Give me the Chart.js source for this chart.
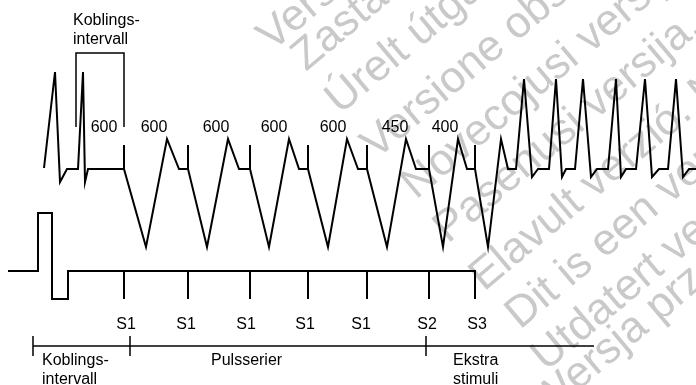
<!DOCTYPE html>
<html>
<head>
<meta charset="utf-8">
<script src="https://cdn.jsdelivr.net/npm/chart.js@4.4.1/dist/chart.umd.min.js"></script>
<style>
  body { margin: 0; background: #fff; }
  #wrap { width: 696px; height: 385px; }
</style>
</head>
<body>
<div id="wrap"><canvas id="grafico"></canvas></div>
<script>
// EGM-kurven (øverst): x = tid (tegneenheter), y = nivå (nedover = større)
const egmX = [44, 55, 60, 67, 78, 83, 85, 88, 124, 124, 124, 146, 167, 179, 188, 188, 188, 207, 228, 239,
  250, 250, 250, 269, 289, 299, 308, 308, 308, 328, 347, 358, 367, 367, 367, 387, 406, 416,
  429, 429, 429, 443, 458, 467, 475, 475, 475, 488, 501, 508, 516,
  524, 532, 538, 549, 556, 562, 566, 575, 583, 591, 597, 608, 616, 621, 626, 636,
  645, 652, 659, 668, 676, 683, 689, 696];
const egmY = [168, 72, 182, 169, 169, 72, 182, 169, 169, 145, 169, 247, 139, 169, 169, 145, 169, 247, 139, 169,
  169, 145, 169, 247, 139, 169, 169, 145, 169, 247, 139, 169, 169, 145, 169, 247, 139, 169,
  169, 145, 169, 247, 139, 169, 169, 145, 169, 247, 139, 169, 169,
  79, 177, 169, 169, 79, 177, 169, 169, 79, 177, 169, 169, 79, 177, 169, 169,
  79, 177, 169, 169, 79, 177, 169, 169];

// stimuleringskurven
const stimX = [8, 38, 38, 52, 52, 68, 68, 475, 475];
const stimY = [271, 271, 213, 213, 299, 299, 271, 271, 299];
const stimPulsX = [124, 188, 250, 308, 367, 429];
const stimTopp = 271;
const stimBunn = 299;
const stimNavn = ['S1', 'S1', 'S1', 'S1', 'S1', 'S2', 'S3'];
const stimNavnX = [126, 186, 246, 305, 361, 427, 477];

// intervaller (ms)
const intervaller = ['600', '600', '600', '600', '600', '450', '400'];
const intervallX = [104, 154, 216, 274, 333, 395, 445];

// klamme for koblingsintervall
const klammeX = [76, 76, 124, 124];
const klammeY = [127, 53, 53, 127];

// tidslinje nederst
const linjeX = [33, 594];
const linjeY = 346;
const linjeMerker = [33, 130, 426];
const faser = [['Koblings-', 'intervall'], ['Pulsserier'], ['Ekstra', 'stimuli']];
const faseX = [42, 211, 453];

// vannmerke-tekst
const vannmerker = [
  'Version obsolète. Ne pas utiliser.',
  'Zastaralá verze. Nepoužívat.',
  'Úrelt útgáfa. Notið ekki.',
  'Versione obsoleta. Non utilizzare.',
  'Novecojusi versija. Neizmantot.',
  'Pasenusi versija. Nenaudokite.',
  'Elavult verzió. Ne használja!',
  'Dit is een verouderde versie. Niet gebruiken.',
  'Utdatert versjon. Skal ikke brukes.',
  'Wersja przeterminowana. Nie używać.'
];
const vannmerkeStart = [[272, 52], [306, 72], [340, 115], [376, 160], [416, 200], [448, 244], [484, 292], [520, 330], [546, 372], [546, 418]];

const pts = (xs, ys) => xs.map((x, i) => ({ x: x, y: Array.isArray(ys) ? ys[i] : ys }));

// små streker (med brudd mellom dem)
function streker(xs, y1, y2) {
  const d = [];
  xs.forEach(x => {
    d.push({ x: x, y: y1 }, { x: x, y: y2 }, { x: x, y: null });
  });
  return d;
}

const tekstPlugin = {
  id: 'tekster',
  beforeDatasetsDraw(chart) {
    const c = chart.ctx;
    c.save();
    c.fillStyle = '#c9c9c9';
    c.font = '44px "Liberation Sans", Arial, sans-serif';
    c.textBaseline = 'alphabetic';
    vannmerker.forEach((t, i) => {
      c.save();
      c.translate(vannmerkeStart[i][0], vannmerkeStart[i][1]);
      c.rotate(-40 * Math.PI / 180);
      c.fillText(t, 0, 0);
      c.restore();
    });
    c.restore();
  },
  afterDatasetsDraw(chart) {
    const c = chart.ctx;
    const sx = chart.scales.x, sy = chart.scales.y;
    c.save();
    c.fillStyle = '#000';
    c.font = '16px "Liberation Sans", Arial, sans-serif';
    c.textBaseline = 'alphabetic';

    c.textAlign = 'center';
    intervaller.forEach((t, i) => c.fillText(t, sx.getPixelForValue(intervallX[i]), sy.getPixelForValue(132)));
    stimNavn.forEach((t, i) => c.fillText(t, sx.getPixelForValue(stimNavnX[i]), sy.getPixelForValue(329)));

    c.textAlign = 'left';
    c.fillText('Koblings-', sx.getPixelForValue(73), sy.getPixelForValue(25));
    c.fillText('intervall', sx.getPixelForValue(73), sy.getPixelForValue(44));
    faser.forEach((linjer, i) => {
      linjer.forEach((t, j) => c.fillText(t, sx.getPixelForValue(faseX[i]), sy.getPixelForValue(365 + j * 19)));
    });
    c.restore();
  }
};

const ctx = document.getElementById('grafico').getContext('2d');

const svart = { borderColor: '#000', backgroundColor: '#000' };

new Chart(ctx, {
  type: 'line',
  data: {
    datasets: [
      { data: pts(egmX, egmY), borderWidth: 2, ...svart },
      { data: pts(stimX, stimY), borderWidth: 2, ...svart },
      { data: streker(stimPulsX, stimTopp, stimBunn), borderWidth: 2, ...svart },
      { data: pts(klammeX, klammeY), borderWidth: 1.5, ...svart },
      { data: pts(linjeX, linjeY), borderWidth: 1.5, ...svart },
      { data: streker(linjeMerker, 336, 356), borderWidth: 1.5, ...svart }
    ]
  },
  options: {
    responsive: true,
    maintainAspectRatio: false,
    animation: false,
    layout: { padding: 0 },
    datasets: {
      line: {
        pointRadius: 0,
        tension: 0,
        spanGaps: false,
        fill: false,
        borderJoinStyle: 'miter',
        clip: 4
      }
    },
    plugins: {
      colors: { enabled: false },
      legend: { display: false },
      tooltip: { enabled: false }
    },
    scales: {
      x: { type: 'linear', display: false, min: 0, max: 696 },
      y: { type: 'linear', display: false, min: 0, max: 385, reverse: true }
    }
  },
  plugins: [tekstPlugin]
});
</script>
</body>
</html>
